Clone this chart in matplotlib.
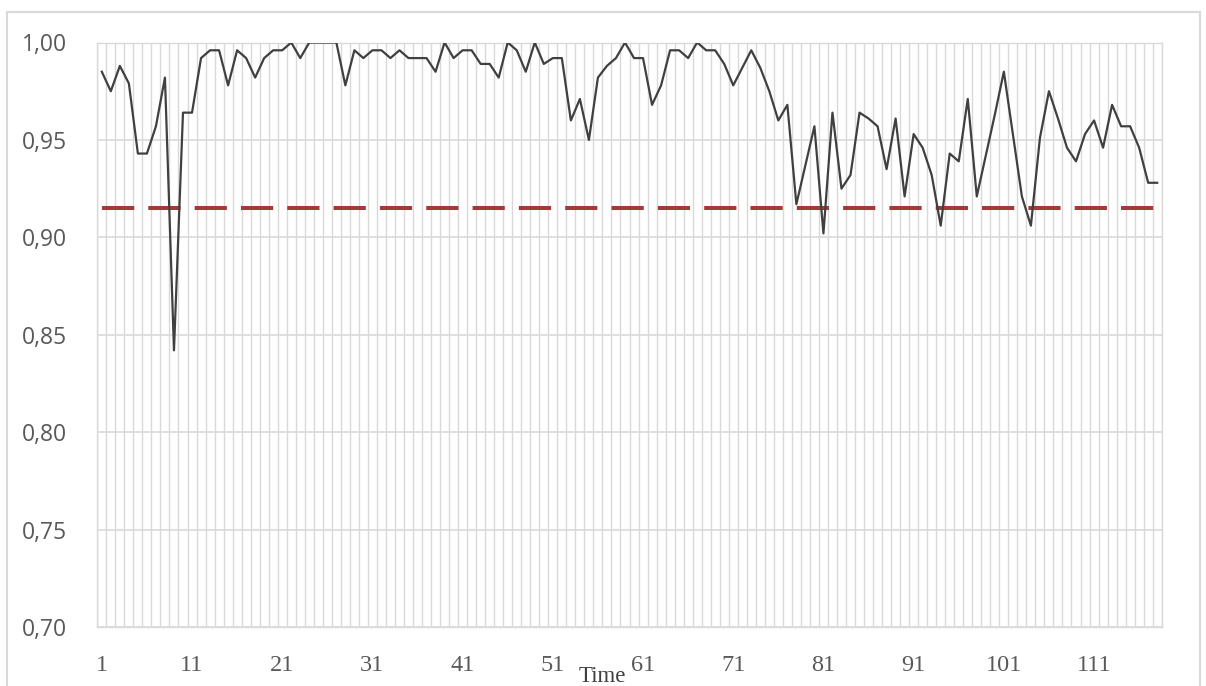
import numpy as np
import matplotlib
matplotlib.use('Agg')
from matplotlib import pyplot as plt
from matplotlib.patches import Rectangle

# series values, one per time step
values = [
    0.985, 0.975, 0.988, 0.979, 0.943, 0.943, 0.957, 0.982, 0.842, 0.964,
    0.964, 0.992, 0.996, 0.996, 0.978, 0.996, 0.992, 0.982, 0.992, 0.996,
    0.996, 1.000, 0.992, 1.000, 1.000, 1.000, 1.000, 0.978, 0.996, 0.992,
    0.996, 0.996, 0.992, 0.996, 0.992, 0.992, 0.992, 0.985, 1.000, 0.992,
    0.996, 0.996, 0.989, 0.989, 0.982, 1.000, 0.996, 0.985, 1.000, 0.989,
    0.992, 0.992, 0.960, 0.971, 0.950, 0.982, 0.988, 0.992, 1.000, 0.992,
    0.992, 0.968, 0.978, 0.996, 0.996, 0.992, 1.000, 0.996, 0.996, 0.989,
    0.978, 0.987, 0.996, 0.987, 0.975, 0.960, 0.968, 0.917, 0.937, 0.957,
    0.902, 0.964, 0.925, 0.932, 0.964, 0.961, 0.957, 0.935, 0.961, 0.921,
    0.953, 0.946, 0.932, 0.906, 0.943, 0.939, 0.971, 0.921, 0.942, 0.963,
    0.985, 0.953, 0.921, 0.906, 0.951, 0.975, 0.961, 0.946, 0.939, 0.953,
    0.960, 0.946, 0.968, 0.957, 0.957, 0.946, 0.928, 0.928,
]
threshold = 0.915
time = np.arange(1, len(values) + 1)
x_tick_values = list(range(1, 112, 10))
y_tick_values = [0.70, 0.75, 0.80, 0.85, 0.90, 0.95, 1.00]
y_tick_labels = [f'{v:.2f}'.replace('.', ',') for v in y_tick_values]

grid_color = '#d9d9d9'
text_gray = '#595959'

fig = plt.figure(figsize=(12.06, 6.86), dpi=100)
ax = fig.add_axes([97.3 / 1206, 1 - 627 / 686, (1161.7 - 97.3) / 1206, (627 - 42.5) / 686])

ax.plot(time, values, color='#404040', linewidth=1.6, zorder=3)
ax.plot(time, [threshold] * len(time), color='#a33a3a', linewidth=2.9,
        linestyle=(0, (8, 3.5)), dash_capstyle='butt', zorder=2)

ax.set_xlim(0.5, len(values) + 0.5)
ax.set_ylim(0.70, 1.00)

ax.set_xticks(x_tick_values)
ax.set_xticklabels([str(v) for v in x_tick_values], family='Liberation Serif',
                   fontsize=17.5, color=text_gray)
ax.set_xticks(np.arange(0.5, len(values) + 1, 1.0), minor=True)
ax.set_yticks(y_tick_values)
ax.set_yticklabels(y_tick_labels, family='Open Sans', fontsize=16.5, color=text_gray)

ax.tick_params(axis='both', which='both', length=0)
ax.tick_params(axis='x', pad=20)
ax.tick_params(axis='y', pad=22)
ax.grid(True, axis='y', which='major', color=grid_color, linewidth=1.2)
ax.grid(True, axis='x', which='minor', color=grid_color, linewidth=1.0)
ax.grid(False, axis='x', which='major')
for spine in ax.spines.values():
    spine.set_color(grid_color)
    spine.set_linewidth(1.0)

fig.text(602 / 1206, 1 - 676 / 686, 'Time', family='Liberation Serif', fontsize=16.5,
         color='#404040', ha='center', va='center')

# outer chart frame
fig.patches.append(Rectangle((7.3 / 1206, -0.05), (1200 - 7.3) / 1206, 1.05 - 11.7 / 686,
                             transform=fig.transFigure, fill=False,
                             edgecolor=grid_color, linewidth=1.5))

fig.savefig('out.png', dpi=100)
